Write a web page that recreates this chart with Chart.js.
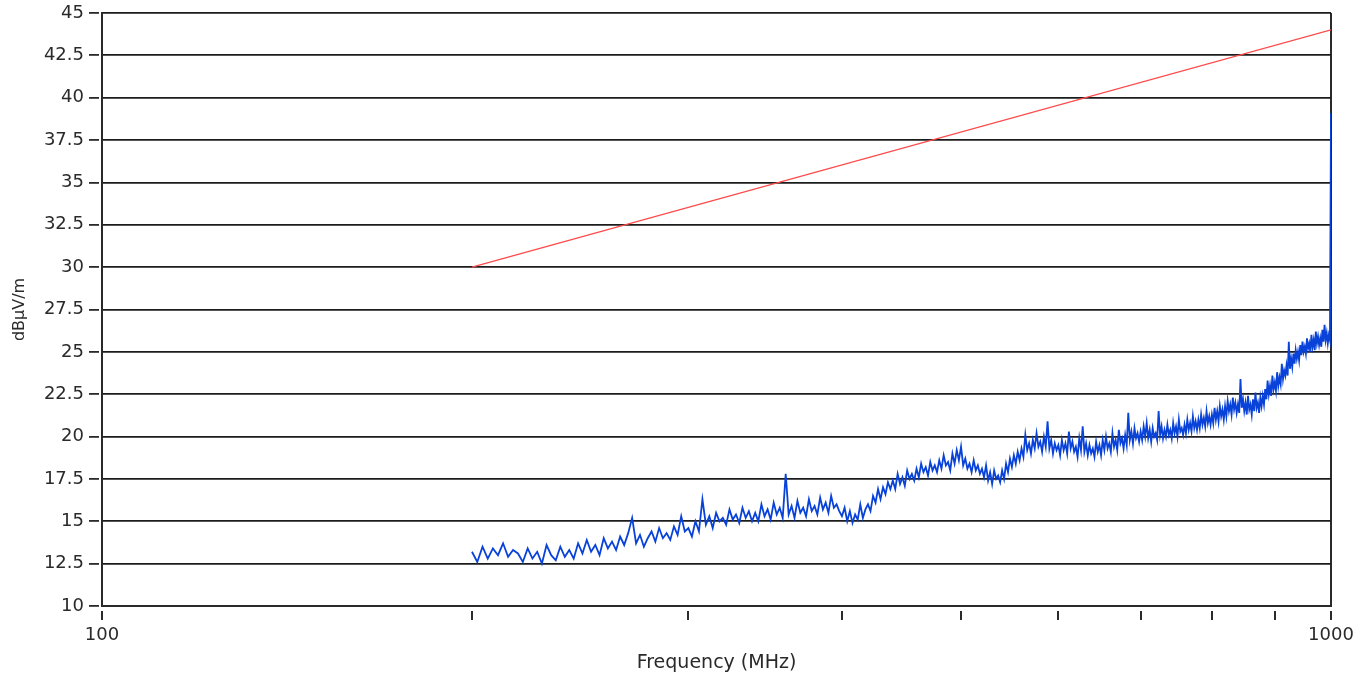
<!DOCTYPE html>
<html>
<head>
<meta charset="utf-8">
<script src="https://cdn.jsdelivr.net/npm/chart.js@4.4.1/dist/chart.umd.min.js"></script>
<style>
  body { margin: 0; background: #fff; }
  canvas { display: block; }
</style>
</head>
<body>
<canvas id="emiChart" width="1364" height="679"></canvas>
<script>
// scan: 200 .. 1000 MHz, 2 MHz step
const scanStart = 200;
const scanStep = 2;
const scanLevels = [
  13.2, 12.6, 13.5, 12.8, 13.4, 13.0, 13.7, 12.9, 13.3, 13.1,
  12.6, 13.4, 12.8, 13.2, 12.5, 13.6, 13.0, 12.7, 13.5, 12.9,
  13.3, 12.8, 13.7, 13.1, 13.9, 13.2, 13.6, 13.0, 14.0, 13.4,
  13.8, 13.3, 14.1, 13.6, 14.3, 15.2, 13.7, 14.2, 13.5, 14.0,
  14.4, 13.8, 14.6, 14.0, 14.3, 13.9, 14.7, 14.2, 15.3, 14.4,
  14.6, 14.1, 15.0, 14.4, 16.3, 14.8, 15.3, 14.6, 15.5, 15.0,
  15.2, 14.8, 15.7, 15.1, 15.4, 14.9, 15.8, 15.2, 15.6, 15.0,
  15.5, 15.0, 16.0, 15.3, 15.7, 15.1, 16.1, 15.4, 15.8, 15.2,
  17.8, 15.4, 15.9, 15.2, 16.2, 15.5, 15.8, 15.3, 16.3, 15.6,
  15.9, 15.4, 16.4, 15.7, 16.1, 15.5, 16.5, 15.8, 16.0, 15.6,
  15.3, 15.8, 15.0, 15.6, 14.9, 15.4, 15.1, 16.0, 15.2, 15.7,
  16.0, 15.6, 16.5, 16.1, 16.9, 16.3, 17.0, 16.6, 17.3, 16.9,
  17.4, 16.9, 17.8, 17.2, 17.6, 17.1, 18.0, 17.5, 17.8, 17.4,
  18.1, 17.6, 18.4, 17.9, 18.2, 17.7, 18.5, 18.0, 18.3, 17.9,
  18.6, 18.1, 18.9, 18.3, 18.5, 18.0, 19.0, 18.4, 19.2, 18.6,
  19.4, 18.3, 18.7, 18.1, 18.4, 17.9, 18.6, 18.0, 18.3, 17.8,
  18.1, 17.6, 18.3, 17.4, 17.9, 17.2, 18.0, 17.5, 17.7, 17.3,
  18.0, 17.5, 18.4, 17.9, 18.7, 18.2, 18.9, 18.4, 19.1, 18.6,
  19.3, 18.8, 20.1, 19.2, 19.6, 19.0, 19.8, 19.3, 20.2, 19.4,
  19.7, 19.1, 20.0, 19.4, 20.9, 19.3, 19.8, 19.0, 19.6, 19.2,
  19.5, 18.9, 19.8, 19.2, 19.6, 19.0, 20.3, 19.3, 19.7, 19.1,
  19.4, 18.8, 19.9, 19.2, 20.6, 19.1, 19.6, 18.9, 19.5, 19.0,
  19.3, 18.8, 19.7, 19.1, 19.5, 18.9, 19.8, 19.2, 20.0, 19.3,
  19.6, 19.1, 20.2, 19.4, 19.8, 19.2, 20.4, 19.6, 19.9, 19.3,
  20.1, 19.5, 21.4, 19.8, 20.3, 19.6, 20.5, 19.9, 20.2, 19.7,
  20.3, 19.8, 20.6, 20.0, 20.8, 19.9, 20.4, 19.7, 20.5, 20.0,
  20.2, 19.8, 21.5, 20.1, 20.6, 19.9, 20.4, 20.0, 20.7, 20.1,
  20.4, 19.9, 20.8, 20.2, 20.6, 20.0, 21.0, 20.3, 20.5, 20.1,
  20.7, 20.2, 21.0, 20.4, 20.8, 20.3, 21.2, 20.5, 20.9, 20.4,
  21.0, 20.5, 21.3, 20.7, 21.1, 20.6, 21.5, 20.8, 21.2, 20.7,
  21.3, 20.8, 21.7, 21.0, 21.5, 20.9, 21.8, 21.2, 21.6, 21.0,
  21.8, 21.2, 22.1, 21.5, 21.9, 21.3, 22.3, 21.6, 22.0, 21.4,
  21.9, 21.4, 23.4, 21.7, 22.2, 21.5, 22.0, 21.3, 22.4, 21.6,
  21.9, 21.3, 22.2, 21.5, 22.6, 21.7, 22.0, 21.4, 22.3, 21.8,
  22.4, 21.9, 22.8, 22.2, 23.3, 22.5, 23.0, 22.4, 23.6, 22.8,
  23.2, 22.7, 23.8, 23.0, 23.5, 23.1, 24.3, 23.4, 23.9, 23.6,
  24.2, 23.6, 25.6, 24.0, 24.6, 24.1, 24.9, 24.3, 25.1, 24.6,
  25.0, 24.5, 25.4, 24.8, 25.6, 25.0, 25.3, 24.9, 25.8, 25.2,
  25.5, 25.0, 26.0, 25.3, 25.7, 25.1, 26.2, 25.5, 25.9, 25.4,
  25.8, 25.3, 26.3, 25.6, 26.6, 25.7, 26.1, 25.5, 26.0, 25.7,
  39.1
];

// limit line end points
const limitFreqs = [200, 1000];
const limitLevels = [30, 44];

const xTickValues = [100, 200, 300, 400, 500, 600, 700, 800, 900, 1000];
const xTickLabels = { 100: "100", 1000: "1000" };

const axisColor = "#2a2a2a";
const fontName = "'DejaVu Sans', Verdana, sans-serif";

let scanPoints = scanLevels.map((v, i) => ({ x: scanStart + i * scanStep, y: v }));
let limitPoints = limitFreqs.map((f, i) => ({ x: f, y: limitLevels[i] }));

const ctx = document.getElementById("emiChart").getContext("2d");
new Chart(ctx, {
  type: "line",
  data: {
    datasets: [
      {
        label: "Limit",
        data: limitPoints,
        borderColor: "#ff4a4a",
        borderWidth: 1.2,
        pointRadius: 0,
        tension: 0
      },
      {
        label: "Scan",
        data: scanPoints,
        borderColor: "#0842d8",
        borderWidth: 1.8,
        pointRadius: 0,
        tension: 0
      }
    ]
  },
  options: {
    responsive: false,
    animation: false,
    events: [],
    layout: { padding: { top: 13, right: 33, left: 0, bottom: 0 } },
    plugins: { legend: { display: false }, tooltip: { enabled: false } },
    scales: {
      x: {
        type: "logarithmic",
        min: 100,
        max: 1000,
        afterBuildTicks: scale => {
          scale.ticks = xTickValues.map(v => ({ value: v }));
        },
        afterFit: scale => { scale.height = 73; },
        ticks: {
          autoSkip: false,
          maxRotation: 0,
          color: axisColor,
          font: { family: fontName, size: 18 },
          padding: 5,
          callback: v => xTickLabels[v] || ""
        },
        grid: {
          drawOnChartArea: true,
          color: c => (c.tick && c.tick.value === 1000) ? axisColor : "transparent",
          tickColor: axisColor,
          tickLength: 14,
          tickBorderDash: [0, 4, 10, 100],
          lineWidth: 2
        },
        border: { color: axisColor, width: 2 },
        title: {
          display: true,
          text: "Frequency (MHz)",
          color: axisColor,
          font: { family: fontName, size: 19 },
          padding: { top: 4, bottom: 5 }
        }
      },
      y: {
        min: 10,
        max: 45,
        afterBuildTicks: scale => {
          let t = [];
          for (let v = 10; v <= 45; v += 2.5) t.push({ value: v });
          scale.ticks = t;
        },
        afterFit: scale => {
          scale.width = 102;
          scale.paddingTop = 0;
          scale.paddingBottom = 0;
        },
        ticks: {
          color: axisColor,
          font: { family: fontName, size: 18 },
          padding: 5,
          callback: v => String(v)
        },
        grid: {
          color: "#1c1c1c",
          lineWidth: 1.8,
          tickColor: axisColor,
          tickLength: 13,
          tickBorderDash: [10, 100]
        },
        border: { color: axisColor, width: 2 },
        title: {
          display: true,
          text: "dBµV/m",
          color: axisColor,
          font: { family: fontName, size: 16 },
          padding: { top: 10, bottom: 2 }
        }
      }
    }
  }
});
</script>
</body>
</html>
